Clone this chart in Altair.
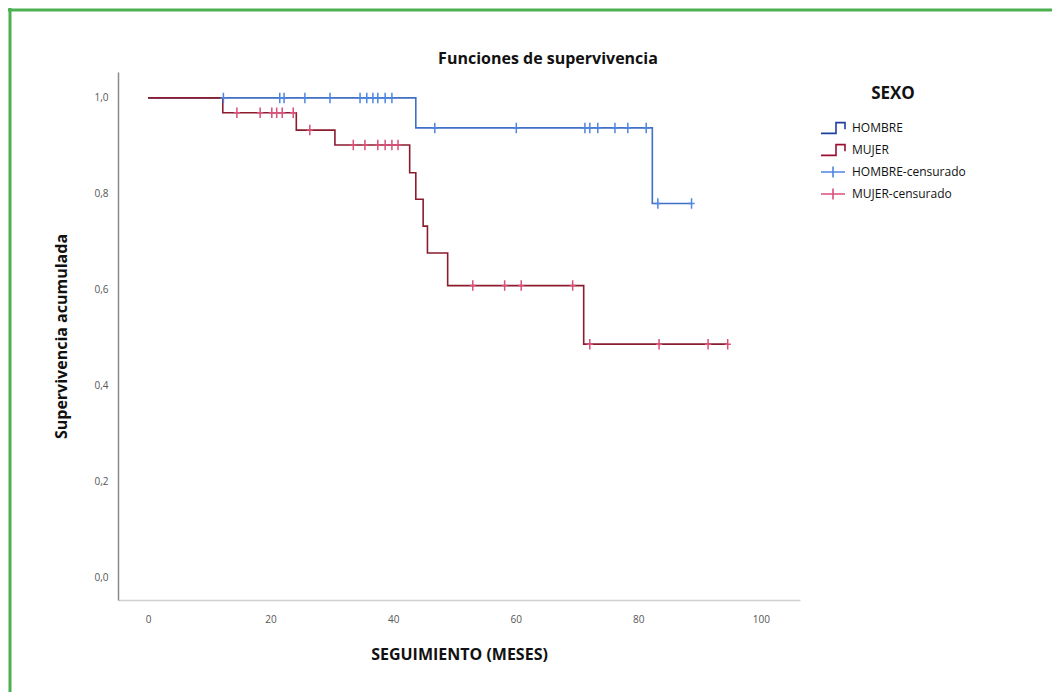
import altair as alt
import pandas as pd

# ---- data ----
hombre_t = [0, 43.7, 82.3, 88.7]
hombre_s = [1.0, 0.9375, 0.78, 0.78]
mujer_t = [0, 12.2, 24.2, 30.5, 42.7, 43.7, 44.9, 45.6, 48.9, 71.1, 94.6]
mujer_s = [1.0, 0.969, 0.933, 0.902, 0.844, 0.789, 0.733, 0.677, 0.609, 0.487, 0.487]

hombre_cens_t = [12.3, 21.5, 22.2, 25.6, 29.7, 34.6, 35.7, 36.7, 37.5, 38.7, 39.8,
                 46.8, 60.1, 71.3, 72.1, 73.4, 76.2, 78.3, 81.3, 83.2, 88.7]
hombre_cens_s = [1.0] * 11 + [0.9375] * 8 + [0.78] * 2
mujer_cens_t = [14.5, 18.3, 20.2, 21.0, 21.9, 23.7, 26.4,
                33.5, 35.4, 37.5, 38.7, 39.8, 40.8,
                53.0, 58.2, 60.9, 69.3, 72.1, 83.4, 91.4, 94.6]
mujer_cens_s = [0.969] * 6 + [0.933] + [0.902] * 6 + [0.609] * 4 + [0.487] * 4

series = ["HOMBRE", "MUJER", "HOMBRE-censurado", "MUJER-censurado"]
x_ticks = [0, 20, 40, 60, 80, 100]
y_ticks = [0.0, 0.2, 0.4, 0.6, 0.8, 1.0]
title_text = "Funciones de supervivencia"

lines_df = pd.DataFrame({
    "grupo": ["HOMBRE"] * len(hombre_t) + ["MUJER"] * len(mujer_t),
    "t": hombre_t + mujer_t,
    "s": hombre_s + mujer_s,
})
cens_df = pd.DataFrame({
    "serie": ["HOMBRE-censurado"] * len(hombre_cens_t) + ["MUJER-censurado"] * len(mujer_cens_t),
    "t": hombre_cens_t + mujer_cens_t,
    "s": hombre_cens_s + mujer_cens_s,
})

FONT = "Open Sans"
xscale = alt.Scale(domain=[-4.9, 106.4], nice=False, zero=False)
yscale = alt.Scale(domain=[-0.046, 1.054], nice=False, zero=False)

xax = alt.Axis(values=x_ticks, title="SEGUIMIENTO (MESES)", grid=False, ticks=False,
               domainColor="#d0d0d0", domainWidth=1.5, labelColor="#555555",
               labelFontSize=10, labelPadding=14, titleFontSize=16, titleFontWeight="bold",
               titleColor="#111111", titlePadding=22, labelFont=FONT, titleFont=FONT)
yax = alt.Axis(values=y_ticks, title="Supervivencia acumulada", grid=False, ticks=False,
               domainColor="#8a8a8a", domainWidth=1.5, labelColor="#555555",
               labelFontSize=10, labelPadding=10,
               labelExpr="replace(format(datum.value, '.1f'), '.', ',')",
               titleFontSize=16, titleFontWeight="bold", titleColor="#111111",
               titlePadding=24, labelFont=FONT, titleFont=FONT)

color_scale = alt.Scale(domain=series, range=["#1f3f9e", "#9b1030", "#4f86e0", "#d9507a"])
step_path = "M-1,0.45L0.25,0.45L0.25,-0.45L1,-0.45L1,0.1"
cens_path = "M-1,0L1,0M0,-0.45L0,0.45"
shape_scale = alt.Scale(domain=series, range=[step_path, step_path, cens_path, cens_path])

legend = alt.Legend(title="SEXO", orient="none", legendX=702, legendY=14,
                    titleFontSize=17, titleFontWeight="bold", titleColor="#111111",
                    titleAnchor="middle", titleFont=FONT, titlePadding=12,
                    labelFontSize=12, labelColor="#111111", labelFont=FONT,
                    symbolSize=576, symbolStrokeWidth=1.6, symbolFillColor="transparent",
                    symbolOpacity=1, rowPadding=-9, labelOffset=6)

lines = alt.Chart(lines_df).mark_line(interpolate="step-after", strokeWidth=1.6).encode(
    x=alt.X("t:Q", scale=xscale, axis=xax),
    y=alt.Y("s:Q", scale=yscale, axis=yax),
    stroke=alt.Stroke("grupo:N", scale=alt.Scale(domain=["HOMBRE", "MUJER"],
                                                 range=["#3f6fc6", "#8a1c2e"]), legend=None),
)

leg = alt.Chart(cens_df).mark_point(filled=False, strokeWidth=1.6, opacity=0).encode(
    x=alt.X("t:Q", scale=xscale),
    y=alt.Y("s:Q", scale=yscale),
    color=alt.Color("serie:N", scale=color_scale, legend=legend),
    shape=alt.Shape("serie:N", scale=shape_scale, legend=legend),
)

cens = alt.Chart(cens_df).mark_point(
    shape="M0,-1L0,1M-0.6,0L0.6,0", size=110, filled=False, strokeWidth=1.5, opacity=1
).encode(
    x=alt.X("t:Q", scale=xscale),
    y=alt.Y("s:Q", scale=yscale),
    color=alt.Color("serie:N", scale=color_scale, legend=legend),
)

frame_df = pd.DataFrame({"k": ["frame"]})
frame_top = alt.Chart(frame_df).mark_rule(color="#4caf50", strokeWidth=3).encode(
    x=alt.value(-110), x2=alt.value(950), y=alt.value(-62))
frame_left = alt.Chart(frame_df).mark_rule(color="#4caf50", strokeWidth=3).encode(
    x=alt.value(-108), y=alt.value(-64), y2=alt.value(640))
title_mark = alt.Chart(frame_df).mark_text(
    text=title_text, font=FONT, fontSize=16, fontWeight="bold", color="#111111",
    align="center", baseline="middle"
).encode(x=alt.value(430), y=alt.value(-13))

chart = alt.layer(frame_top, frame_left, title_mark, lines, leg, cens).properties(
    width=682, height=528,
    autosize=alt.AutoSizeParams(type="none"),
    padding={"left": 110, "top": 64, "right": 252, "bottom": 92},
).configure(background="white").configure_view(strokeWidth=0, stroke="transparent")

chart.save("out.html", embed_options={"renderer": "svg", "actions": False})
